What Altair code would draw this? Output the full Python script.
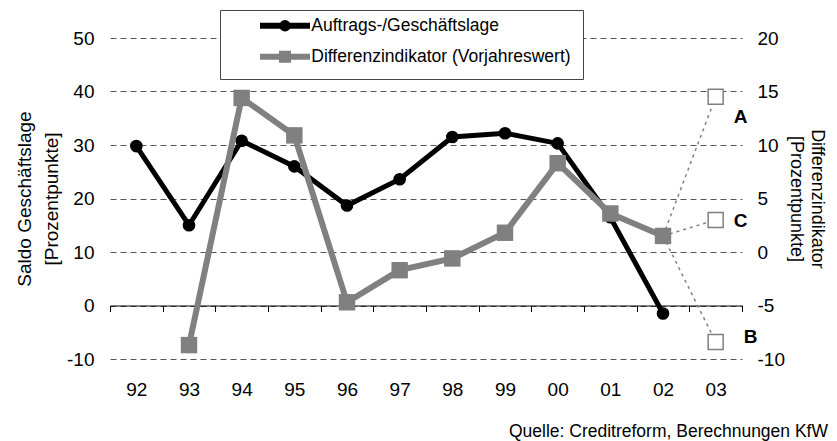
import altair as alt
import pandas as pd

# ---------------- data ----------------
years = ['92', '93', '94', '95', '96', '97', '98', '99', '00', '01', '02', '03']

lage_years = ['92', '93', '94', '95', '96', '97', '98', '99', '00', '01', '02']
lage_values = [29.8, 15.0, 30.8, 26.0, 18.7, 23.6, 31.5, 32.2, 30.3, 16.5, -1.5]

diff_years = ['93', '94', '95', '96', '97', '98', '99', '00', '01', '02']
diff_values = [-8.7, 14.4, 10.9, -4.7, -1.7, -0.6, 1.8, 8.3, 3.6, 1.5]

scen_labels = ['A', 'C', 'B']
scen_values = [14.5, 3.0, -8.4]
scen_start_year = '02'
scen_end_year = '03'

series_names = ['Auftrags-/Geschäftslage', 'Differenzindikator (Vorjahreswert)']
series_colors = ['#000000', '#808080']

left_ticks = [-10, 0, 10, 20, 30, 40, 50]
right_ticks = [-10, -5, 0, 5, 10, 15, 20]
left_domain = [-10, 50]
right_domain = [-10, 20]

left_title = ['Saldo Geschäftslage', '[Prozentpunkte]']
right_title = ['Differenzindikator', '[Prozentpunkte]']
source_text = 'Quelle: Creditreform, Berechnungen KfW'

# ---------------- tables ----------------
df_lage = pd.DataFrame({'year': lage_years, 'value': lage_values})
df_diff = pd.DataFrame({'year': diff_years, 'value': diff_values})
start_val = diff_values[diff_years.index(scen_start_year)]
rows = []
for lab, v in zip(scen_labels, scen_values):
    rows.append({'scenario': lab, 'year': scen_start_year, 'value': start_val})
    rows.append({'scenario': lab, 'year': scen_end_year, 'value': v})
df_scen_lines = pd.DataFrame(rows)
df_scen = pd.DataFrame({'scenario': scen_labels, 'year': scen_end_year, 'value': scen_values})
df_series = pd.DataFrame({'series': series_names})
df_source = pd.DataFrame({'t': [source_text]})

F = 'Liberation Sans'
W, H = 632, 321
GRAY = '#808080'

x_axis = alt.Axis(orient='bottom', offset=-53.5, domain=True, domainColor='black', domainWidth=1,
                  ticks=True, tickBand='extent', tickSize=6, tickColor='black', tickWidth=1,
                  labelPadding=69, labelFontSize=19, labelFont=F, labelColor='black',
                  labelAngle=0, grid=False, title=None)
x_enc = alt.X('year:O', sort=years,
              scale=alt.Scale(type='band', domain=years, paddingInner=0, paddingOuter=0),
              bandPosition=0.5, axis=x_axis, title=None)

yl_axis = alt.Axis(orient='left', values=left_ticks, domain=False, ticks=False, tickSize=0,
                   labelPadding=16, labelFontSize=19, labelFont=F, labelColor='black',
                   labelExpr="datum.value + ''",
                   grid=True, gridColor='#555555', gridDash=[6, 4], gridWidth=1,
                   title=left_title, titleFontSize=19, titleFont=F, titleColor='black',
                   titleFontWeight='normal', titlePadding=5, titleLineHeight=27)
yl_enc = alt.Y('value:Q', scale=alt.Scale(domain=left_domain, nice=False, zero=False), axis=yl_axis)

yr_axis = alt.Axis(orient='right', values=right_ticks, domain=False, ticks=False, tickSize=0,
                   labelPadding=15, labelFontSize=19, labelFont=F, labelColor='black',
                   labelExpr="datum.value + ''", grid=False,
                   title=right_title, titleFontSize=18, titleFont=F, titleColor='black',
                   titleFontWeight='normal', titlePadding=2, titleLineHeight=21)
yr_enc = alt.Y('value:Q', scale=alt.Scale(domain=right_domain, nice=False, zero=False), axis=yr_axis)

path1 = "M-5,0L5,0M-0.56,0A0.56,0.56,0,1,1,0.56,0A0.56,0.56,0,1,1,-0.56,0Z"
path2 = "M-5,0L5,0M-0.6,-0.6L0.6,-0.6L0.6,0.6L-0.6,0.6Z"

legend = alt.Legend(title='\u00a0', titleOrient='right', titlePadding=5, titleFontSize=17.5,
                    titleFont=F, orient='none', legendX=110, legendY=-28,
                    fillColor='white', strokeColor='#444444', padding=7, rowPadding=0,
                    symbolSize=100, symbolStrokeWidth=6, symbolOffset=49.25, labelOffset=17.5,
                    labelFontSize=17.5, labelFont=F, labelColor='black', labelLimit=600,
                    labelExpr="datum.label + '" + "\u00a0" * 11 + "'", symbolOpacity=1)

ghost = alt.Chart(df_series).transform_filter('false').mark_point(filled=False, strokeWidth=6).encode(
    color=alt.Color('series:N', scale=alt.Scale(domain=series_names, range=series_colors), legend=legend),
    shape=alt.Shape('series:N', scale=alt.Scale(domain=series_names, range=[path1, path2]), legend=legend),
)

line_a = alt.Chart(df_lage).mark_line(color='black', strokeWidth=5).encode(x=x_enc, y=yl_enc)
pts_a = alt.Chart(df_lage).mark_point(shape='circle', filled=True, color='black', size=160, opacity=1).encode(x=x_enc, y=yl_enc)
source = alt.Chart(df_source).mark_text(align='right', baseline='alphabetic', font=F, fontSize=17.5,
                                         color='black').encode(text='t:N', x=alt.value(718), y=alt.value(399))
layer_a = alt.layer(line_a, pts_a, ghost, source)

scen_lines = alt.Chart(df_scen_lines).mark_line(color=GRAY, strokeWidth=1.5, strokeDash=[3, 4]).encode(
    x=x_enc, y=yr_enc, detail='scenario:N')
line_b = alt.Chart(df_diff).mark_line(color=GRAY, strokeWidth=6).encode(x=x_enc, y=yr_enc)
pts_b = alt.Chart(df_diff).mark_point(shape='square', filled=True, color=GRAY, size=270, opacity=1).encode(x=x_enc, y=yr_enc)
open_b = alt.Chart(df_scen).mark_point(shape='square', fill='white', stroke=GRAY, strokeWidth=1.5,
                                       size=225, opacity=1, fillOpacity=1).encode(x=x_enc, y=yr_enc)
offsets = {'A': (25, 20), 'C': (25, 1), 'B': (35, -5)}
label_layers = []
for lab in scen_labels:
    dx, dy = offsets[lab]
    label_layers.append(
        alt.Chart(df_scen).transform_filter(alt.datum.scenario == lab).mark_text(
            font=F, fontSize=19, fontWeight='bold', color='black', dx=dx, dy=dy
        ).encode(x=x_enc, y=yr_enc, text='scenario:N')
    )
layer_b = alt.layer(scen_lines, line_b, pts_b, open_b, *label_layers)

chart = alt.layer(layer_a, layer_b).resolve_scale(y='independent').properties(
    width=W, height=H,
    padding={'left': 102, 'top': 30, 'right': 87, 'bottom': 82},
    autosize=alt.AutoSizeParams(type='none'),
).configure_view(stroke=None)

chart.save("out.html", embed_options={"renderer": "svg", "actions": False})
